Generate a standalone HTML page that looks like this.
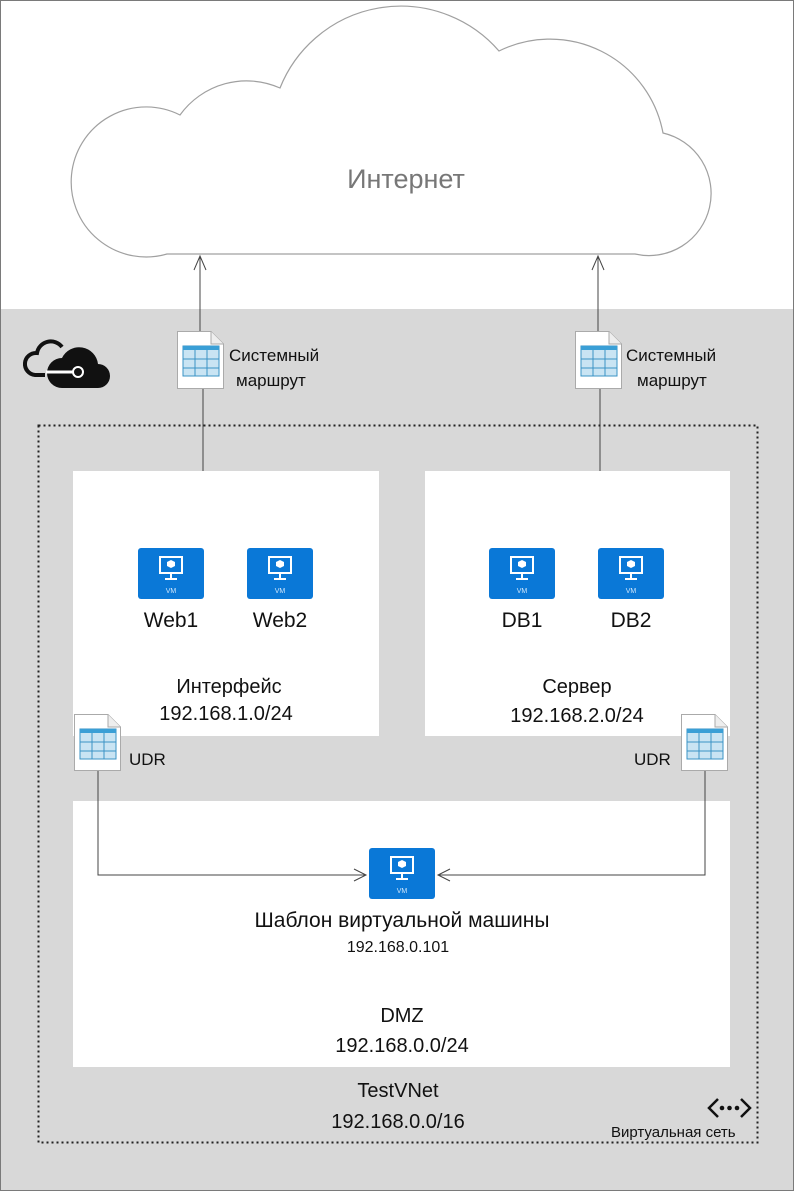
<!DOCTYPE html>
<html><head><meta charset="utf-8"><style>
html,body{margin:0;padding:0;background:#fff}
svg{display:block}
text{font-family:"Liberation Sans","DejaVu Sans",sans-serif}
</style></head><body>
<svg width="794" height="1191" viewBox="0 0 794 1191" xmlns="http://www.w3.org/2000/svg">
<rect x="0" y="0" width="794" height="1191" fill="#fff"/>
<rect x="1" y="309" width="792" height="881" fill="#d8d8d8"/>
<rect x="0.5" y="0.5" width="793" height="1190" fill="none" stroke="#7a7a7a" stroke-width="1"/>

<!-- cloud -->
<path d="M167,254 A75,75 0 1 1 180,115 A82,82 0 0 1 280,88 A130,130 0 0 1 499,51 A115,115 0 0 1 663,133 A62,62 0 1 1 635,254 Z" fill="#fff" stroke="#a0a0a0" stroke-width="1.2"/>
<text x="406" y="188" font-size="27" fill="#777" text-anchor="middle">Интернет</text>

<!-- arrows up -->
<g stroke="#444" stroke-width="1" fill="none">
<line x1="200" y1="256" x2="200" y2="331"/>
<polyline points="194,270 200,256 206,270"/>
<line x1="598" y1="256" x2="598" y2="331"/>
<polyline points="592,270 598,256 604,270"/>
<line x1="203" y1="388" x2="203" y2="471"/>
<line x1="600" y1="388" x2="600" y2="471"/>
</g>

<!-- azure icon -->
<g>
<path d="M62,347 a14,14 0 0 0 -25,6 a11,11 0 0 0 -2,22 h10" fill="none" stroke="#111" stroke-width="4"/>
<path d="M62,388 h36 a12,12 0 0 0 0,-24 a19,19 0 0 0 -36,-6 a15,15 0 0 0 0,30 z" fill="#111"/>
<line x1="46" y1="372" x2="74" y2="372" stroke="#fff" stroke-width="3"/>
<circle cx="78" cy="372" r="5" fill="#111" stroke="#fff" stroke-width="2"/>
</g>

<!-- dotted vnet -->
<rect x="38.5" y="425.5" width="719" height="717" fill="none" stroke="#222" stroke-width="2" stroke-dasharray="2,3"/>

<!-- boxes -->
<rect x="73" y="471" width="306" height="265" fill="#fff"/>
<rect x="425" y="471" width="305" height="265" fill="#fff"/>
<rect x="73" y="801" width="657" height="266" fill="#fff"/>

<!-- route icons -->
<g transform="translate(177,331)">
<path d="M0.5,0.5 H34 L46.5,13 V57.5 H0.5 Z" fill="#fff" stroke="#aaa"/>
<path d="M34,0.5 V13 H46.5" fill="#eee" stroke="#aaa"/>
<rect x="6" y="15" width="36" height="30" fill="#c9e4f3" stroke="#3a93c6"/>
<rect x="6" y="15" width="36" height="4" fill="#3a9fd6"/>
<g stroke="#3a93c6"><line x1="18" y1="19" x2="18" y2="45"/><line x1="30" y1="19" x2="30" y2="45"/><line x1="6" y1="28" x2="42" y2="28"/><line x1="6" y1="37" x2="42" y2="37"/></g>
</g>
<g transform="translate(575,331)">
<path d="M0.5,0.5 H34 L46.5,13 V57.5 H0.5 Z" fill="#fff" stroke="#aaa"/>
<path d="M34,0.5 V13 H46.5" fill="#eee" stroke="#aaa"/>
<rect x="6" y="15" width="36" height="30" fill="#c9e4f3" stroke="#3a93c6"/>
<rect x="6" y="15" width="36" height="4" fill="#3a9fd6"/>
<g stroke="#3a93c6"><line x1="18" y1="19" x2="18" y2="45"/><line x1="30" y1="19" x2="30" y2="45"/><line x1="6" y1="28" x2="42" y2="28"/><line x1="6" y1="37" x2="42" y2="37"/></g>
</g>
<g transform="translate(74,714)">
<path d="M0.5,0.5 H34 L46.5,13 V56.5 H0.5 Z" fill="#fff" stroke="#aaa"/>
<path d="M34,0.5 V13 H46.5" fill="#eee" stroke="#aaa"/>
<rect x="6" y="15" width="36" height="30" fill="#c9e4f3" stroke="#3a93c6"/>
<rect x="6" y="15" width="36" height="4" fill="#3a9fd6"/>
<g stroke="#3a93c6"><line x1="18" y1="19" x2="18" y2="45"/><line x1="30" y1="19" x2="30" y2="45"/><line x1="6" y1="28" x2="42" y2="28"/><line x1="6" y1="37" x2="42" y2="37"/></g>
</g>
<g transform="translate(681,714)">
<path d="M0.5,0.5 H34 L46.5,13 V56.5 H0.5 Z" fill="#fff" stroke="#aaa"/>
<path d="M34,0.5 V13 H46.5" fill="#eee" stroke="#aaa"/>
<rect x="6" y="15" width="36" height="30" fill="#c9e4f3" stroke="#3a93c6"/>
<rect x="6" y="15" width="36" height="4" fill="#3a9fd6"/>
<g stroke="#3a93c6"><line x1="18" y1="19" x2="18" y2="45"/><line x1="30" y1="19" x2="30" y2="45"/><line x1="6" y1="28" x2="42" y2="28"/><line x1="6" y1="37" x2="42" y2="37"/></g>
</g>

<g font-size="17" fill="#111">
<text x="229" y="361">Системный</text><text x="236" y="386">маршрут</text>
<text x="626" y="361">Системный</text><text x="637" y="386">маршрут</text>
<text x="129" y="765">UDR</text>
<text x="634" y="765">UDR</text>
</g>

<!-- UDR connectors -->
<g stroke="#444" stroke-width="1" fill="none">
<polyline points="98,771 98,875 366,875"/>
<polyline points="354,869 366,875 354,881"/>
<polyline points="705,771 705,875 438,875"/>
<polyline points="450,869 438,875 450,881"/>
</g>

<!-- VM icons -->
<g transform="translate(138,548)"><rect width="66" height="51" rx="3" fill="#0a78d7"/><rect x="22" y="9" width="22" height="16" fill="none" stroke="#fff" stroke-width="2"/><path d="M33,12 l4,2 v4 l-4,2 l-4,-2 v-4 z" fill="#fff"/><line x1="33" y1="26" x2="33" y2="30" stroke="#fff" stroke-width="2"/><line x1="27" y1="31" x2="39" y2="31" stroke="#fff" stroke-width="2"/><text x="33" y="45" font-size="7" fill="#cfe6fb" text-anchor="middle">VM</text></g>
<g transform="translate(247,548)"><rect width="66" height="51" rx="3" fill="#0a78d7"/><rect x="22" y="9" width="22" height="16" fill="none" stroke="#fff" stroke-width="2"/><path d="M33,12 l4,2 v4 l-4,2 l-4,-2 v-4 z" fill="#fff"/><line x1="33" y1="26" x2="33" y2="30" stroke="#fff" stroke-width="2"/><line x1="27" y1="31" x2="39" y2="31" stroke="#fff" stroke-width="2"/><text x="33" y="45" font-size="7" fill="#cfe6fb" text-anchor="middle">VM</text></g>
<g transform="translate(489,548)"><rect width="66" height="51" rx="3" fill="#0a78d7"/><rect x="22" y="9" width="22" height="16" fill="none" stroke="#fff" stroke-width="2"/><path d="M33,12 l4,2 v4 l-4,2 l-4,-2 v-4 z" fill="#fff"/><line x1="33" y1="26" x2="33" y2="30" stroke="#fff" stroke-width="2"/><line x1="27" y1="31" x2="39" y2="31" stroke="#fff" stroke-width="2"/><text x="33" y="45" font-size="7" fill="#cfe6fb" text-anchor="middle">VM</text></g>
<g transform="translate(598,548)"><rect width="66" height="51" rx="3" fill="#0a78d7"/><rect x="22" y="9" width="22" height="16" fill="none" stroke="#fff" stroke-width="2"/><path d="M33,12 l4,2 v4 l-4,2 l-4,-2 v-4 z" fill="#fff"/><line x1="33" y1="26" x2="33" y2="30" stroke="#fff" stroke-width="2"/><line x1="27" y1="31" x2="39" y2="31" stroke="#fff" stroke-width="2"/><text x="33" y="45" font-size="7" fill="#cfe6fb" text-anchor="middle">VM</text></g>
<g transform="translate(369,848)"><rect width="66" height="51" rx="3" fill="#0a78d7"/><rect x="22" y="9" width="22" height="16" fill="none" stroke="#fff" stroke-width="2"/><path d="M33,12 l4,2 v4 l-4,2 l-4,-2 v-4 z" fill="#fff"/><line x1="33" y1="26" x2="33" y2="30" stroke="#fff" stroke-width="2"/><line x1="27" y1="31" x2="39" y2="31" stroke="#fff" stroke-width="2"/><text x="33" y="45" font-size="7" fill="#cfe6fb" text-anchor="middle">VM</text></g>

<g fill="#111" text-anchor="middle">
<text x="171" y="627" font-size="21">Web1</text>
<text x="280" y="627" font-size="21">Web2</text>
<text x="522" y="627" font-size="21">DB1</text>
<text x="631" y="627" font-size="21">DB2</text>
<text x="229" y="693" font-size="20">Интерфейс</text>
<text x="226" y="720" font-size="20">192.168.1.0/24</text>
<text x="577" y="693" font-size="20">Сервер</text>
<text x="577" y="722" font-size="20">192.168.2.0/24</text>
<text x="402" y="927" font-size="21">Шаблон виртуальной машины</text>
<text x="398" y="952" font-size="16">192.168.0.101</text>
<text x="402" y="1022" font-size="20">DMZ</text>
<text x="402" y="1052" font-size="20">192.168.0.0/24</text>
<text x="398" y="1097" font-size="20">TestVNet</text>
<text x="398" y="1128" font-size="20">192.168.0.0/16</text>
</g>

<!-- vnet icon -->
<g stroke="#111" stroke-width="2.5" fill="none">
<polyline points="718,1099 709,1108 718,1117"/>
<polyline points="741,1099 750,1108 741,1117"/>
</g>
<g fill="#111"><circle cx="722" cy="1108" r="2.3"/><circle cx="729.5" cy="1108" r="2.3"/><circle cx="737" cy="1108" r="2.3"/></g>
<text x="611" y="1137" font-size="15" fill="#111">Виртуальная сеть</text>
</svg>
</body></html>
